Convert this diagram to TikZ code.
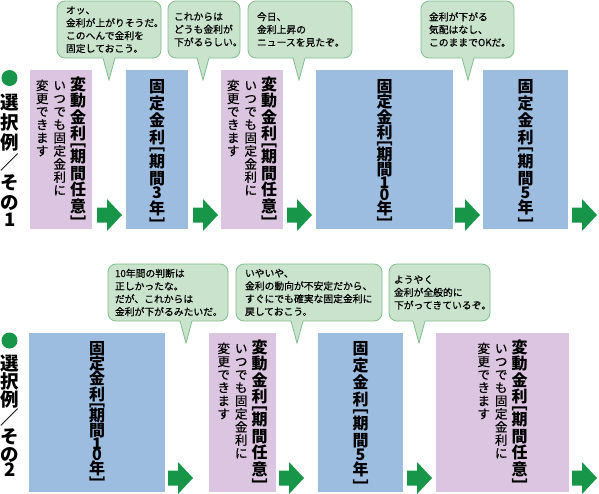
\documentclass[tikz,border=0pt]{standalone}
\usepackage{fontspec}
\setmainfont{Noto Sans CJK JP}
\newfontfamily\jpmid{Noto Sans CJK JP}[FakeBold=0.6]
\usetikzlibrary{positioning}
\XeTeXuseglyphmetrics=1

\definecolor{fixblue}{HTML}{9DBDE0}
\definecolor{varpink}{HTML}{DCC5E0}
\definecolor{talkfill}{HTML}{C9E3CD}
\definecolor{talkline}{HTML}{7FBD8D}
\definecolor{flowgreen}{HTML}{17964A}

% vertical text, one glyph per line
\newcommand{\tatechar}[1]{\hbox to 1em{\hss\vrule height .88em depth .12em width 0pt\relax #1\hss}}
\newcommand{\tateink}[2][0pt]{\setbox0\hbox{#2}\hbox to 1em{\hss\vrule height\dimexpr\ht0+\dp0+#1\relax depth 0pt width 0pt\raise\dp0\box0\hss}}
\def\tatebox#1{\ifnum`#1<128 \tateink{#1}\else\ifnum`#1="FE47 \tateink[1.8pt]{#1}\else\ifnum`#1="FE48 \tateink[1.2pt]{#1}\else\tatechar{#1}\fi\fi\fi}
\def\tateloop#1{\ifx#1\relax\else\tatebox{#1}\expandafter\tateloop\fi}
\newcommand{\tate}[2][1pt]{\vtop{\baselineskip=0pt\lineskiplimit=\maxdimen\lineskip=#1\relax\tateloop#2\relax}}
\newcommand{\tatebig}[2][.5pt]{{\bfseries\fontsize{16}{16}\selectfont\tate[#1]{#2}}}
\newcommand{\tatesmall}[1]{{\jpmid\fontsize{12.5}{12.5}\selectfont\tate[.6pt]{#1}}}
\newcommand{\varrate}{\tatesmall{変更できます}\hskip5pt\tatesmall{いつでも固定金利に}\hskip4pt\tatebig{変動金利﹇期間任意﹈}}

\begin{document}
\begin{tikzpicture}[x=1pt, y=-1pt,
  every node/.style={inner sep=0pt, outer sep=0pt},
  fixbox/.style={fill=fixblue, minimum height=159, anchor=north west},
  varbox/.style={fill=varpink, minimum height=159, anchor=north west},
  talk/.style={fill=talkfill, draw=talkline, line width=.8pt, rounded corners=8pt,
    minimum height=57, anchor=north west},
  say/.style={anchor=west, align=left, font=\jpmid\fontsize{9.8}{12.8}\selectfont},
  dot/.style={circle, fill=flowgreen, minimum size=16},
  rowlabel/.style={anchor=north, font=\bfseries\fontsize{18.5}{18.5}\selectfont},
  flow/.pic={\fill[flowgreen] (0,-7.5) -- (10,-7.5) -- (10,-16) -- (25,0) -- (10,16) -- (10,7.5) -- (0,7.5) -- cycle;}]
  \useasboundingbox (0,0) rectangle (599,493);

  % row 1
  \node[dot] (s1dot) at (9.5,78) {};
  \node[rowlabel] (s1) at (10,93) {\tate[1.5pt]{選択例／その1}};

  \node[varbox, minimum width=62] (b11) at (30,70) {};
  \node[fixbox, minimum width=62] (b12) at (126,70) {};
  \node[varbox, minimum width=62] (b13) at (221,70) {};
  \node[fixbox, minimum width=137] (b14) at (316,70) {};
  \node[fixbox, minimum width=85] (b15) at (483,70) {};

  \node[anchor=north] (b11t) at ([yshift=-6pt]b11.north) {\varrate};
  \node[anchor=north] (b12t) at ([yshift=-8pt]b12.north) {\tatebig[1pt]{固定金利﹇期間3年﹈}};
  \node[anchor=north] (b13t) at ([yshift=-6pt]b13.north) {\varrate};
  \node[anchor=north] (b14t) at ([yshift=-8pt]b14.north) {\tatebig[-.4pt]{固定金利﹇期間10年﹈}};
  \node[anchor=north] (b15t) at ([yshift=-8pt]b15.north) {\tatebig[1pt]{固定金利﹇期間5年﹈}};

  \pic at (97,215) {flow};
  \pic at (193,215) {flow};
  \pic at (287,215) {flow};
  \pic at (455,215) {flow};
  \pic at (572,215) {flow};

  \node[talk, minimum width=104] (c11) at (57,1) {};
  \node[talk, minimum width=72] (c12) at (168,1) {};
  \node[talk, minimum width=104] (c13) at (248,1) {};
  \node[talk, minimum width=93] (c14) at (421,1) {};
  \coordinate (k11) at (109,80);
  \coordinate (k12) at (203,80);
  \coordinate (k13) at (299,80);
  \coordinate (k14) at (468,80);
  \foreach \c in {11,12,13,14} {
    \fill[talkfill] ([xshift=-6pt,yshift=1pt]c\c.south -| k\c) -- (k\c) -- ([xshift=6pt,yshift=1pt]c\c.south -| k\c) -- cycle;
    \draw[talkline, line width=.8pt] ([xshift=-6pt]c\c.south -| k\c) -- (k\c) -- ([xshift=6pt]c\c.south -| k\c);
  }
  \node[say] (c11t) at ([xshift=9pt]c11.west) {オッ、\\金利が上がりそうだ。\\このへんで金利を\\固定しておこう。};
  \node[say] (c12t) at ([xshift=6pt]c12.west) {これからは\\どうも金利が\\下がるらしい。};
  \node[say] (c13t) at ([xshift=9pt]c13.west) {今日、\\金利上昇の\\ニュースを見たぞ。};
  \node[say] (c14t) at ([xshift=8pt]c14.west) {金利が下がる\\気配はなし、\\このままでOKだ。};

  % row 2
  \node[dot] (s2dot) at (9.5,340.5) {};
  \node[rowlabel] (s2) at (10,354) {\tate[-.3pt]{選択例／その2}};

  \node[fixbox, minimum width=136] (b21) at (29,333) {};
  \node[varbox, minimum width=67] (b22) at (209,333) {};
  \node[fixbox, minimum width=85] (b23) at (318,333) {};
  \node[varbox, minimum width=133] (b24) at (436,333) {};

  \node[anchor=north] (b21t) at ([yshift=-7pt]b21.north) {\tatebig[-.6pt]{固定金利﹇期間10年﹈}};
  \node[anchor=north] (b22t) at ([yshift=-6pt]b22.north) {\varrate};
  \node[anchor=north] (b23t) at ([yshift=-7pt]b23.north) {\tatebig[1pt]{固定金利﹇期間5年﹈}};
  \node[anchor=north] (b24t) at ([yshift=-6pt]b24.north) {\varrate};

  \pic at (168,478) {flow};
  \pic at (279,478) {flow};
  \pic at (407,478) {flow};
  \pic at (572,478) {flow};

  \node[talk, minimum width=120] (c21) at (108,264) {};
  \node[talk, minimum width=146] (c22) at (236,264) {};
  \node[talk, minimum width=101] (c23) at (389,264) {};
  \coordinate (k21) at (186,343);
  \coordinate (k22) at (297,343);
  \coordinate (k23) at (419,343);
  \foreach \c in {21,22,23} {
    \fill[talkfill] ([xshift=-6pt,yshift=1pt]c\c.south -| k\c) -- (k\c) -- ([xshift=6pt,yshift=1pt]c\c.south -| k\c) -- cycle;
    \draw[talkline, line width=.8pt] ([xshift=-6pt]c\c.south -| k\c) -- (k\c) -- ([xshift=6pt]c\c.south -| k\c);
  }
  \node[say] (c21t) at ([xshift=7pt]c21.west) {10年間の判断は\\正しかったな。\\だが、これからは\\金利が下がるみたいだ。};
  \node[say] (c22t) at ([xshift=9pt]c22.west) {いやいや、\\金利の動向が不安定だから、\\すぐにでも確実な固定金利に\\戻しておこう。};
  \node[say] (c23t) at ([xshift=5pt]c23.west) {ようやく\\金利が全般的に\\下がってきているぞ。};
\end{tikzpicture}
\end{document}
